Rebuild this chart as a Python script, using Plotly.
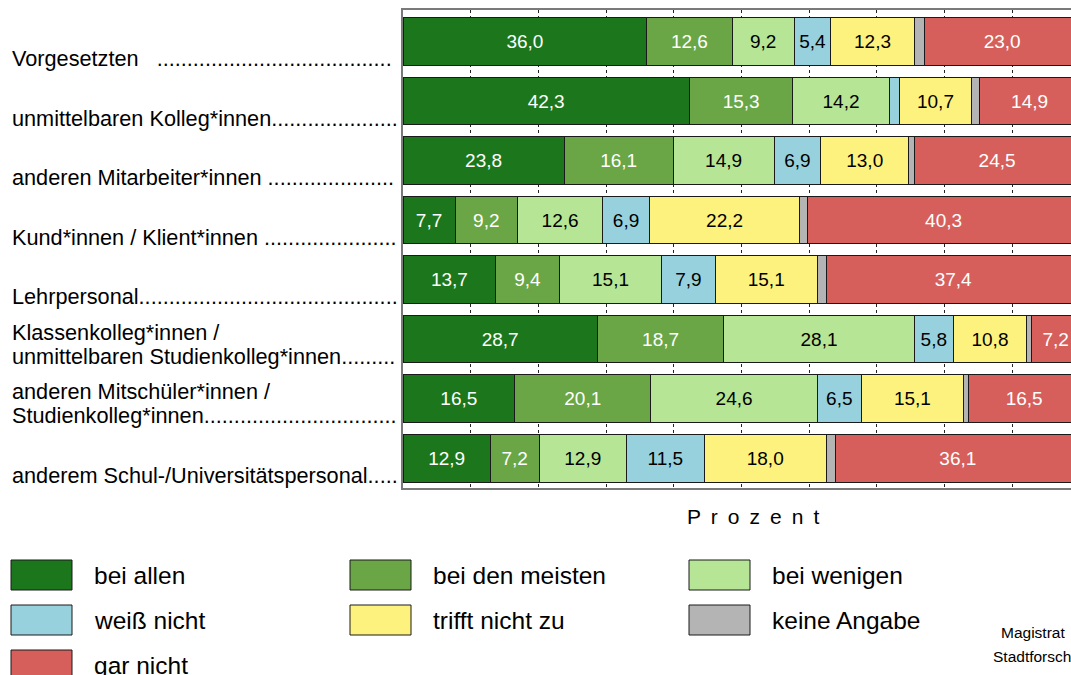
import plotly.graph_objects as go

# ---------------- data ----------------
categories = [
    "Vorgesetzten",
    "unmittelbaren Kolleg*innen",
    "anderen Mitarbeiter*innen",
    "Kund*innen / Klient*innen",
    "Lehrpersonal",
    "Klassenkolleg*innen / unmittelbaren Studienkolleg*innen",
    "anderen Mitschüler*innen / Studienkolleg*innen",
    "anderem Schul-/Universitätspersonal",
]
label_lines = [
    ["Vorgesetzten\u00a0\u00a0\u00a0"],
    ["unmittelbaren Kolleg*innen"],
    ["anderen Mitarbeiter*innen\u00a0"],
    ["Kund*innen / Klient*innen\u00a0"],
    ["Lehrpersonal"],
    ["Klassenkolleg*innen /", "unmittelbaren Studienkolleg*innen"],
    ["anderen Mitschüler*innen /", "Studienkolleg*innen"],
    ["anderem Schul-/Universitätspersonal"],
]
series_names = ["bei allen", "bei den meisten", "bei wenigen", "weiß nicht",
                "trifft nicht zu", "keine Angabe", "gar nicht"]
bei_allen       = [36.0, 42.3, 23.8, 7.7, 13.7, 28.7, 16.5, 12.9]
bei_den_meisten = [12.6, 15.3, 16.1, 9.2, 9.4, 18.7, 20.1, 7.2]
bei_wenigen     = [9.2, 14.2, 14.9, 12.6, 15.1, 28.1, 24.6, 12.9]
weiss_nicht     = [5.4, 1.5, 6.9, 6.9, 7.9, 5.8, 6.5, 11.5]
trifft_nicht_zu = [12.3, 10.7, 13.0, 22.2, 15.1, 10.8, 15.1, 18.0]
keine_angabe    = [1.5, 1.1, 0.8, 1.1, 1.4, 0.7, 0.7, 1.4]
gar_nicht       = [23.0, 14.9, 24.5, 40.3, 37.4, 7.2, 16.5, 36.1]
series_values = [bei_allen, bei_den_meisten, bei_wenigen, weiss_nicht,
                 trifft_nicht_zu, keine_angabe, gar_nicht]

# ---------------- styles ----------------
colors = ["#1C771C", "#6AA646", "#B6E596", "#97D1DD", "#FEF27E", "#B4B4B4", "#D65F5B"]
text_colors = ["white", "white", "black", "black", "black", "black", "white"]
show_text = [True, True, True, True, True, False, True]
FONT = "Liberation Sans, Arial, sans-serif"

W_FIG, H_FIG = 1071, 675
PLOT_L, PLOT_R, PLOT_T, PLOT_B = 403, 1071, 10, 488   # pixels
ML, MR, MT = PLOT_L, W_FIG - PLOT_R, PLOT_T
MB = H_FIG - PLOT_B
PW = PLOT_R - PLOT_L
PH = PLOT_B - PLOT_T


def px2x(px):
    return (px - PLOT_L) / PW


def py2y(py):
    return (PLOT_B - py) / PH


fig = go.Figure()
for name, vals, col, tcol, st in zip(series_names, series_values, colors, text_colors, show_text):
    texts = [(f"{v:.1f}".replace(".", ",") if (st and v >= 3) else "") for v in vals]
    fig.add_trace(go.Bar(
        y=categories, x=vals, name=name, orientation="h",
        marker=dict(color=col, line=dict(color="#1a1a1a", width=1)),
        text=texts, textposition="inside", insidetextanchor="middle",
        textangle=0, textfont=dict(family=FONT, size=19, color=tcol),
        hoverinfo="skip", showlegend=False, cliponaxis=True,
    ))

# ---------------- category labels with dot leaders ----------------
AW = {' ': 278, '\u00a0': 278, '.': 278, '*': 389, '/': 278, '-': 333,
      'a': 556, 'b': 556, 'c': 500, 'd': 556, 'e': 556, 'f': 278, 'g': 556, 'h': 556,
      'i': 222, 'j': 222, 'k': 500, 'l': 222, 'm': 833, 'n': 556, 'o': 556, 'p': 556,
      'q': 556, 'r': 333, 's': 500, 't': 278, 'u': 556, 'v': 500, 'w': 722, 'x': 500,
      'y': 500, 'z': 500, 'ä': 556, 'ü': 556, 'ß': 611,
      'K': 667, 'L': 556, 'M': 833, 'S': 667, 'U': 722, 'V': 667}
LFS = 21.7


def tw(s, fs):
    return sum(AW.get(c, 556) for c in s) * fs / 1000.0


LABEL_X = 10
DOT_END = 397
annotations = []
for cat, lines in zip(categories, label_lines):
    last = lines[-1]
    ndots = int((DOT_END - LABEL_X - tw(last, LFS)) / (278 * LFS / 1000.0))
    full = lines[:-1] + [last + "." * max(ndots, 0)]
    shifts = [-17] if len(full) == 1 else [7, -17]
    for txt, ys in zip(full, shifts):
        annotations.append(dict(
            xref="paper", yref="y", x=px2x(LABEL_X), y=cat, yshift=ys,
            xanchor="left", yanchor="middle", text=txt, showarrow=False,
            font=dict(family=FONT, size=LFS, color="black"),
        ))

# axis title
annotations.append(dict(
    xref="paper", yref="paper", x=px2x(753), y=py2y(516), xanchor="center", yanchor="middle",
    text=" \u2009".join("Prozent"), showarrow=False,
    font=dict(family=FONT, size=21, color="black"),
))

# ---------------- legend (drawn) ----------------
shapes = []
leg_cols = [11, 350, 689]
leg_rows = [560, 605, 650]
for i, (name, col) in enumerate(zip(series_names, colors)):
    r, c = divmod(i, 3)
    x0 = leg_cols[c]
    y0 = leg_rows[r]
    shapes.append(dict(type="rect", xref="paper", yref="paper",
                       x0=px2x(x0), x1=px2x(x0 + 61), y0=py2y(y0), y1=py2y(y0 + 30),
                       fillcolor=col, line=dict(color="#1a1a1a", width=1)))
    annotations.append(dict(
        xref="paper", yref="paper", x=px2x(x0 + 81), y=py2y(y0 + 15),
        xanchor="left", yanchor="middle", text=name, showarrow=False,
        font=dict(family=FONT, size=24.5, color="black"),
    ))

# source note (cut at the right edge)
annotations.append(dict(xref="paper", yref="paper", x=px2x(999), y=py2y(632),
                        xanchor="left", yanchor="middle", text="Magistrat",
                        showarrow=False, font=dict(family=FONT, size=15.5, color="black")))
annotations.append(dict(xref="paper", yref="paper", x=px2x(991), y=py2y(656),
                        xanchor="left", yanchor="middle", text="Stadtforschung",
                        showarrow=False, font=dict(family=FONT, size=15.5, color="black")))

fig.update_layout(
    width=W_FIG, height=H_FIG,
    margin=dict(l=ML, r=MR, t=MT, b=MB, autoexpand=False),
    barmode="stack", bargap=0.2,
    plot_bgcolor="white", paper_bgcolor="white",
    annotations=annotations, shapes=shapes,
    showlegend=False,
)
fig.update_xaxes(range=[0, PW / 6.77], dtick=10, tick0=0,
                 showgrid=True, gridcolor="#222222", griddash="dot", gridwidth=1,
                 showticklabels=False, ticks="", zeroline=False,
                 showline=True, linecolor="#7a7a7a", linewidth=1.5, mirror=True)
fig.update_yaxes(autorange="reversed", showticklabels=False, ticks="",
                 showgrid=False, showline=True, linecolor="#7a7a7a", linewidth=1.5)

fig.write_html(
    "out.html",
    config={"displayModeBar": False},
    post_script="document.body.style.margin='0';document.body.style.overflow='hidden';",
)
